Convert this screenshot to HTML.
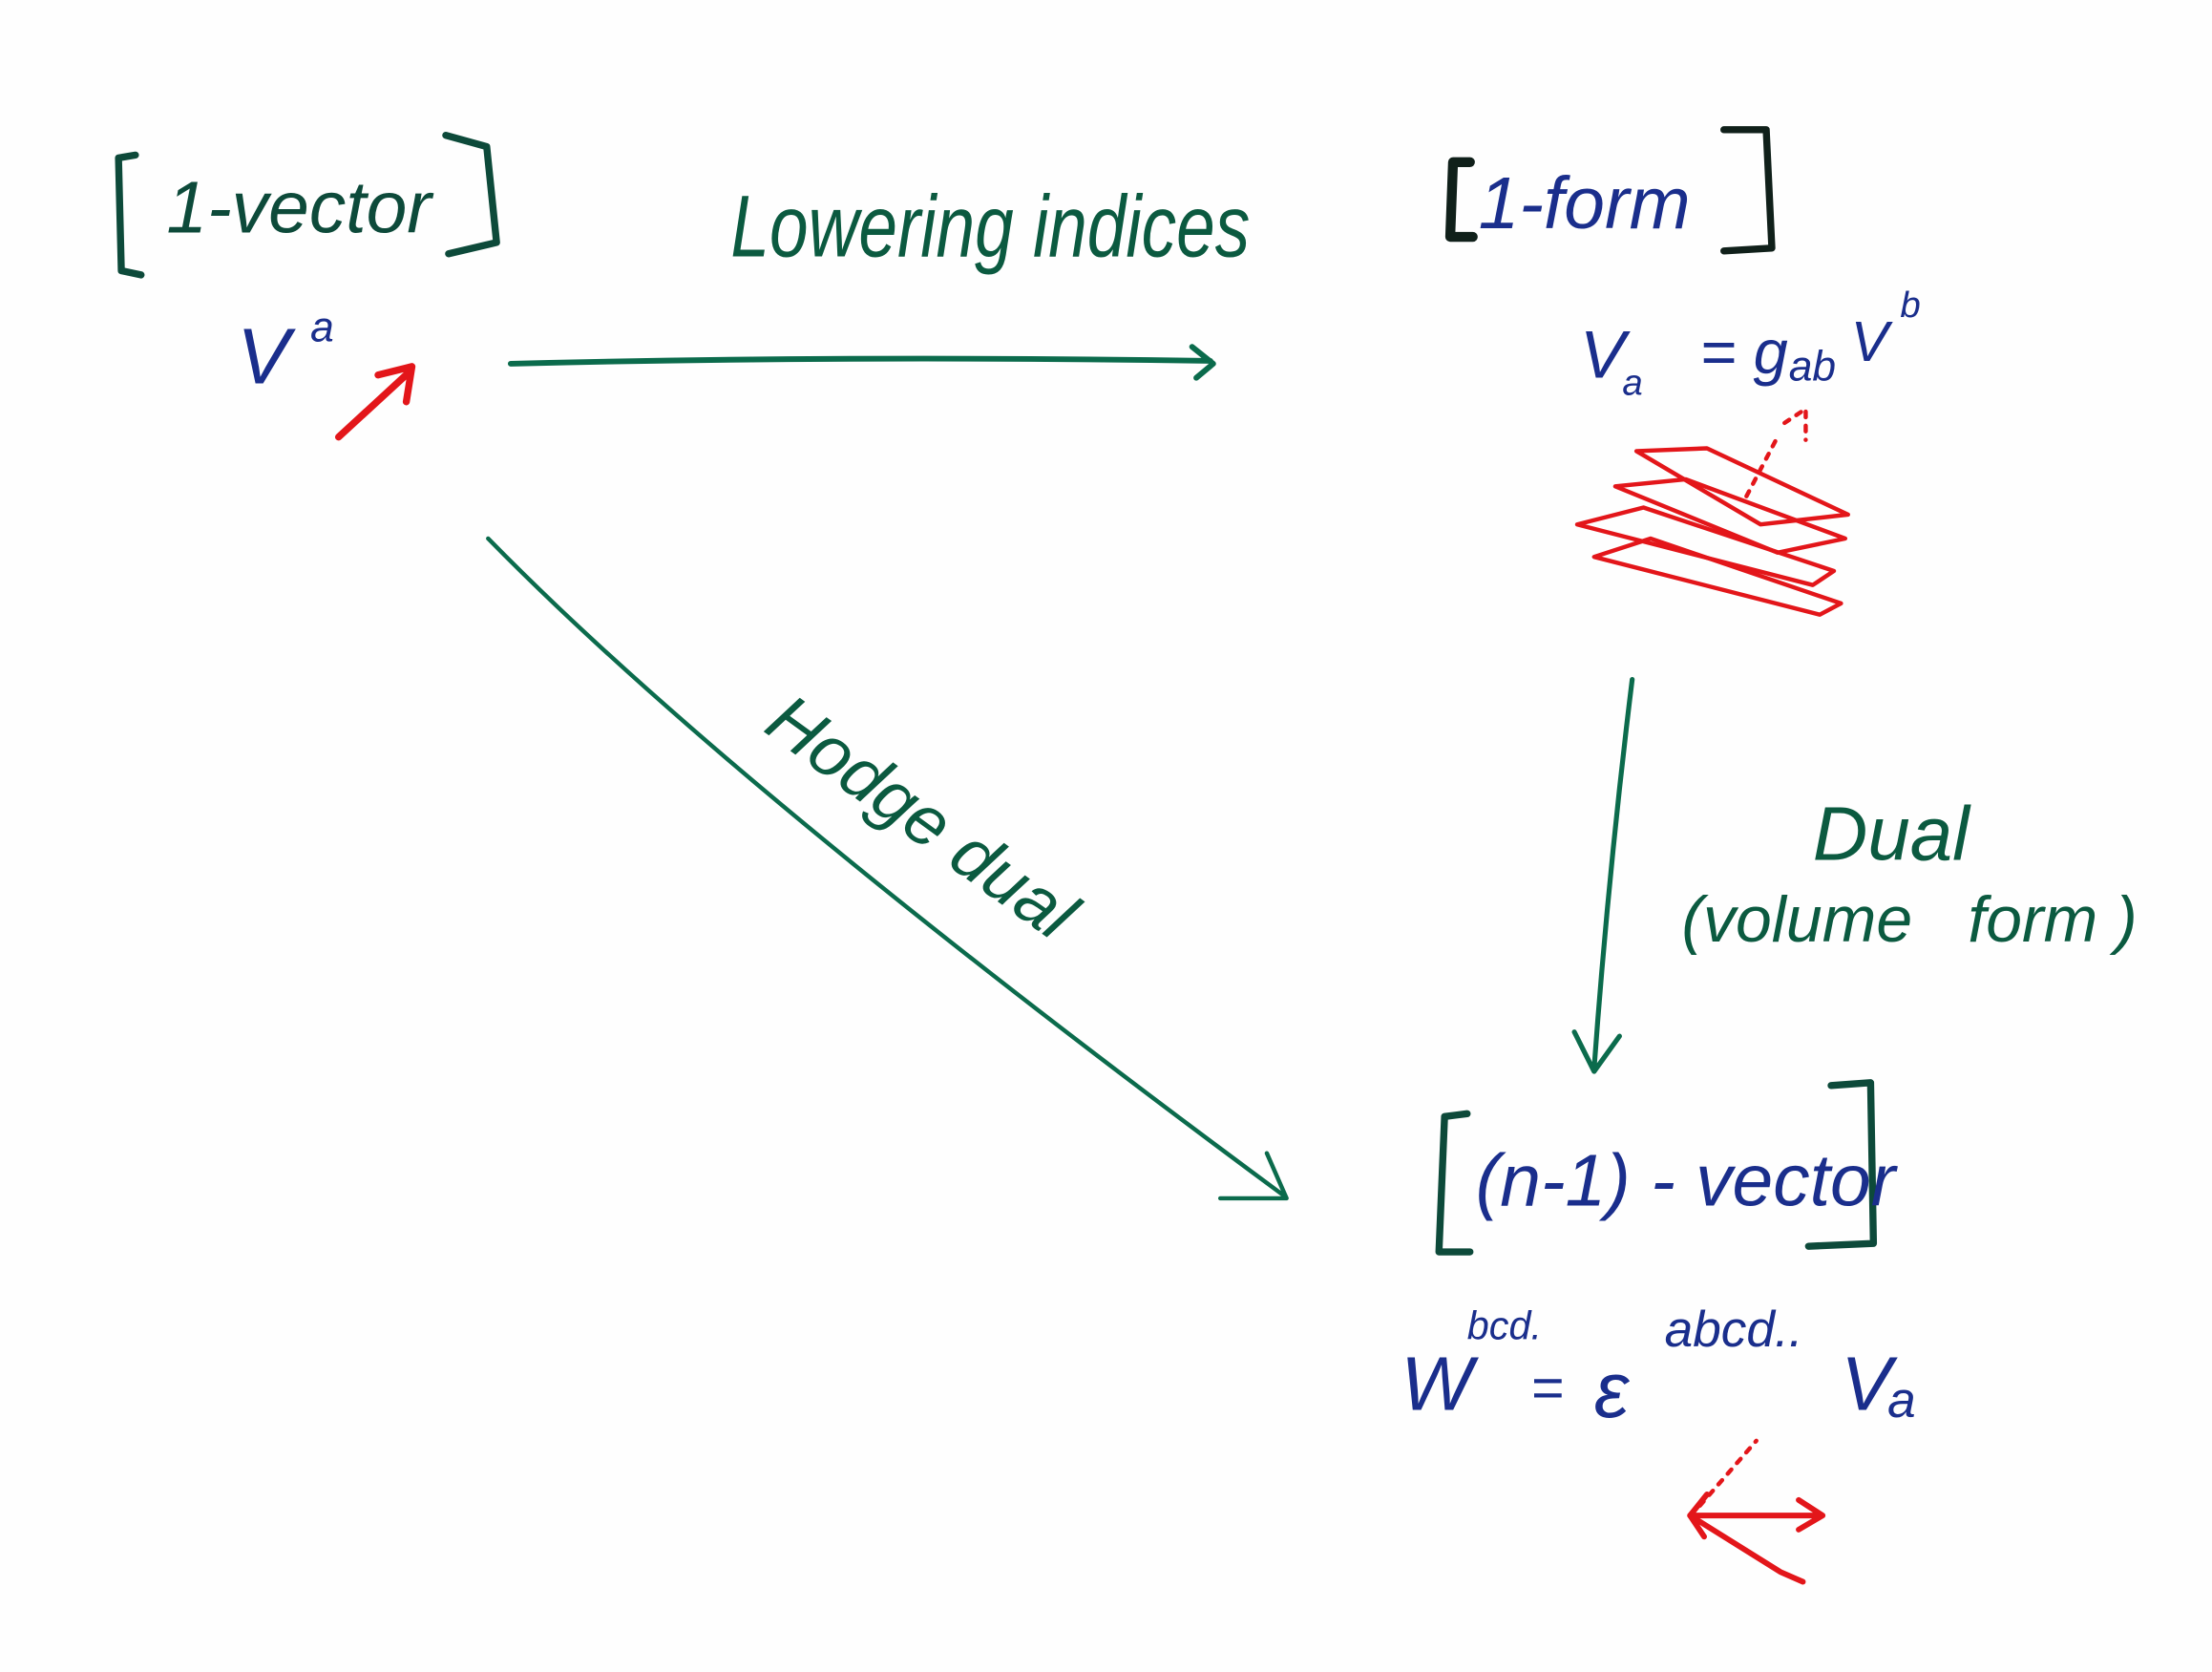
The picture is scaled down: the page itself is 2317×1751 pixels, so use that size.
<!DOCTYPE html>
<html><head><meta charset="utf-8"><style>
html,body{margin:0;padding:0;background:#fff;}
svg{display:block;}
text{font-family:"Liberation Sans",sans-serif;}
</style></head><body>
<svg width="2317" height="1751" viewBox="0 0 1568 1186" preserveAspectRatio="none" xmlns="http://www.w3.org/2000/svg">
<rect width="1568" height="1186" fill="#fefefe"/>
<g fill="none" stroke-linecap="round" stroke-linejoin="round">
<path d="M96,110 L84,112 L86,192 L100,195" stroke="#0d4a3a" stroke-width="5"/>
<path d="M316,96 L345,104 L352,172 L318,180" stroke="#0d4a3a" stroke-width="5"/>
<path d="M240,310 L290,264 M268,266 L292,260 L288,285" stroke="#e3161a" stroke-width="5"/>
<path d="M362,258 Q600,252 858,256 M845,246 L860,258 L848,268" stroke="#0b6b4c" stroke-width="4"/>
<path d="M1042,115 L1030,115 L1028,168 L1044,168" stroke="#10201a" stroke-width="7"/>
<path d="M1222,92 L1252,92 L1256,176 L1222,178" stroke="#10201a" stroke-width="5"/>
<g stroke="#e3161a" stroke-width="3">
<path d="M1160,320 L1210,318 L1310,365 L1248,372 Z"/>
<path d="M1145,345 L1195,340 L1308,382 L1260,392 Z"/>
<path d="M1118,372 L1165,360 L1300,405 L1285,415 Z"/>
<path d="M1130,395 L1170,382 L1305,428 L1290,436 Z"/>
<path d="M1238,352 L1260,310 M1265,300 L1280,290 L1280,312" stroke-dasharray="4 6"/>
</g>
<path d="M1157,482 Q1140,620 1130,758 M1116,732 L1130,760 L1148,735" stroke="#0b6b4c" stroke-width="3.5"/>
<path d="M346,382 Q520,560 910,848 M865,850 L912,850 L898,818" stroke="#0b6b4c" stroke-width="3"/>
<path d="M1040,790 L1024,792 L1020,888 L1042,888" stroke="#0d4a3a" stroke-width="5"/>
<path d="M1298,770 L1326,768 L1328,882 L1282,884" stroke="#0d4a3a" stroke-width="5"/>
<g stroke="#e3161a" stroke-width="4">
<path d="M1198,1075 L1290,1075 M1275,1064 L1292,1075 L1275,1085"/>
<path d="M1198,1075 L1262,1115 L1278,1122 M1198,1075 L1210,1060 M1198,1075 L1208,1090"/>
<path d="M1205,1068 L1245,1022" stroke-width="3" stroke-dasharray="4 6"/>
</g>
</g>
<g font-style="italic">
<text x="118" y="165" font-size="52" fill="#0d4a3a">1-vector</text>
<text x="168" y="272" font-size="56" fill="#1a2e8c">V</text>
<text x="220" y="242" font-size="30" fill="#1a2e8c">a</text>
<text x="518" y="182" font-size="62" fill="#0b5a40" textLength="368" lengthAdjust="spacingAndGlyphs">Lowering indices</text>
<text x="1048" y="162" font-size="52" fill="#1a2e8c">1-form</text>
<text x="1120" y="268" font-size="48" fill="#1a2e8c">V</text>
<text x="1150" y="280" font-size="26" fill="#1a2e8c">a</text>
<text x="1205" y="265" font-size="44" fill="#1a2e8c">= g</text>
<text x="1268" y="270" font-size="30" fill="#1a2e8c">ab</text>
<text x="1312" y="256" font-size="40" fill="#1a2e8c">V</text>
<text x="1347" y="225" font-size="26" fill="#1a2e8c">b</text>
<text x="1285" y="610" font-size="54" fill="#0b5a40">Dual</text>
<text x="1192" y="668" font-size="46" fill="#0b5a40">(volume</text>
<text x="1395" y="668" font-size="46" fill="#0b5a40">form )</text>
<text x="0" y="0" font-size="50" fill="#0b5a40" transform="translate(540,518) rotate(36)">Hodge dual</text>
<text x="1046" y="855" font-size="52" fill="#1a2e8c">(n-1) - vector</text>
<text x="993" y="1000" font-size="54" fill="#1a2e8c">W</text>
<text x="1040" y="950" font-size="28" fill="#1a2e8c">bcd.</text>
<text x="1085" y="998" font-size="40" fill="#1a2e8c">=</text>
<text x="1130" y="1005" font-size="56" fill="#1a2e8c">ε</text>
<text x="1180" y="955" font-size="36" fill="#1a2e8c">abcd..</text>
<text x="1305" y="1000" font-size="54" fill="#1a2e8c">V</text>
<text x="1338" y="1005" font-size="36" fill="#1a2e8c">a</text>
</g>
</svg>
</body></html>
